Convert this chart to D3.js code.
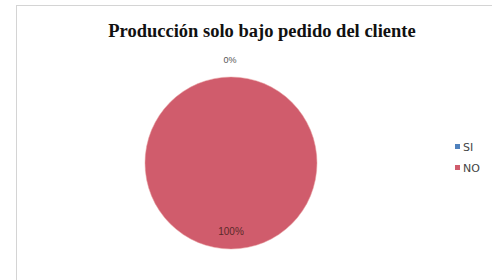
<!DOCTYPE html>
<html>
<head>
<meta charset="utf-8">
<script src="https://cdn.jsdelivr.net/npm/d3@7"></script>
<style>
body { margin: 0; background: #fff; }
</style>
</head>
<body>
<svg width="492" height="280"></svg>
<script>
var categories = ["SI", "NO"];
var values = [0, 100];
var labels = ["0%", "100%"];
var colors = ["#4f81bd", "#d05c6c"];

var svg = d3.select("svg"),
  width = +svg.attr("width"),
  height = +svg.attr("height");

// chart frame
svg.append("rect")
  .attr("x", 16.5).attr("y", 5.5)
  .attr("width", 490).attr("height", 290)
  .attr("fill", "#fff")
  .attr("stroke", "#d4d4d4");

svg.append("text")
  .attr("x", 262).attr("y", 37)
  .attr("text-anchor", "middle")
  .style("font-family", "Liberation Serif, serif")
  .style("font-weight", "bold")
  .style("font-size", "18.5px")
  .attr("fill", "#111")
  .text("Producción solo bajo pedido del cliente");

var cx = 231, cy = 163, r = 86;
var pie = d3.pie().sort(null)(values);
var arc = d3.arc().innerRadius(0).outerRadius(r);

var g = svg.append("g").attr("transform", "translate(" + cx + "," + cy + ")");
g.selectAll("path")
  .data(pie)
  .enter().append("path")
  .attr("d", arc)
  .attr("fill", function(d, i) { return colors[i]; })
  .attr("stroke", "#e8a0a0")
  .attr("stroke-width", 0.5);

// labels: 0% outside top, 100% inside bottom
g.append("text")
  .attr("x", -1).attr("y", -r - 14)
  .attr("text-anchor", "middle")
  .style("font-family", "Liberation Sans, Arial, sans-serif")
  .style("font-size", "9px")
  .attr("fill", "#555")
  .text(labels[0]);

g.append("text")
  .attr("x", 0).attr("y", r - 14)
  .attr("text-anchor", "middle")
  .style("font-family", "Liberation Sans, Arial, sans-serif")
  .style("font-size", "10px")
  .attr("fill", "#5a2a2a")
  .text(labels[1]);

var legend = svg.append("g")
  .selectAll("g")
  .data(categories)
  .enter().append("g")
  .attr("transform", function(d, i) { return "translate(455," + (147 + i * 21) + ")"; });

legend.append("rect")
  .attr("x", 0).attr("y", -3)
  .attr("width", 5).attr("height", 5)
  .attr("fill", function(d, i) { return colors[i]; });

legend.append("text")
  .attr("x", 8).attr("y", 4)
  .style("font-family", "DejaVu Sans, sans-serif")
  .style("font-size", "11px")
  .attr("fill", "#444")
  .text(function(d) { return d; });
</script>
</body>
</html>
